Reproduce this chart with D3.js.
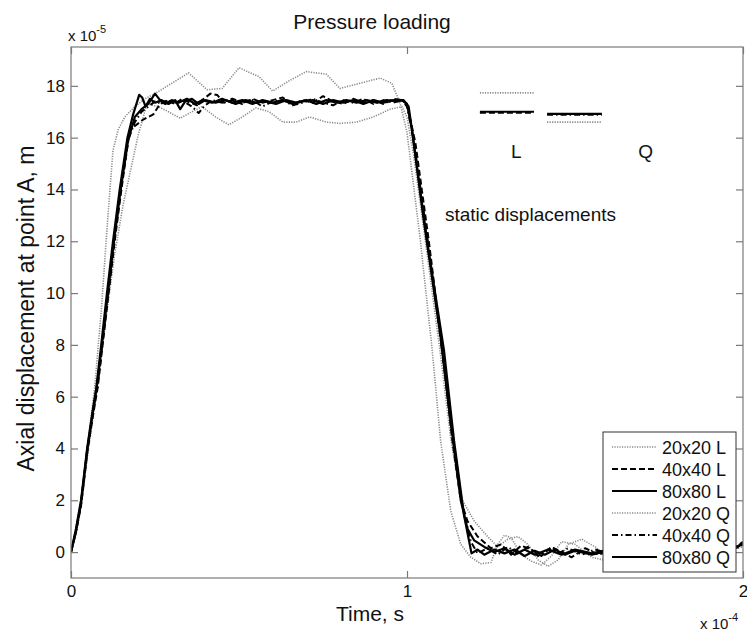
<!DOCTYPE html>
<html lang="en">
<head>
  <meta charset="UTF-8">
  <title>Pressure loading</title>
  <style>
    body { margin: 0; background: #fff; }
    text { font-family: "Liberation Sans", Arial, sans-serif; fill: #111; }
  </style>
</head>
<body>
  <div id="chart"></div>
  <script src="https://d3js.org/d3.v7.min.js"></script>
  <script>
    // time in 1e-4 s, displacement in 1e-5 m
    const xTicks = [0, 1, 2]
    const yTicks = [0, 2, 4, 6, 8, 10, 12, 14, 16, 18]
    const seriesNames = ['20x20 L', '40x40 L', '80x80 L', '20x20 Q', '40x40 Q', '80x80 Q']

    const s20L = [[0,0],[0.015,1.0],[0.03,2.1],[0.05,4.2],[0.07,6.3],[0.09,9.3],[0.11,13.0],[0.125,15.5],[0.14,16.3],[0.16,16.8],[0.19,17.2],[0.22,17.5],[0.25,17.7],[0.3,18.1],[0.35,18.5],[0.405,17.85],[0.45,17.9],[0.5,18.7],[0.56,18.35],[0.6,17.8],[0.65,18.2],[0.7,18.55],[0.76,18.45],[0.8,17.9],[0.86,18.1],[0.92,18.3],[0.955,18.1],[0.98,17.3],[1.0,16.2],[1.04,12.0],[1.075,7.8],[1.1,4.3],[1.13,1.6],[1.16,0.3],[1.19,-0.2],[1.22,-0.45],[1.25,-0.4],[1.27,0.3],[1.29,0.65],[1.31,0.55],[1.34,-0.1],[1.37,-0.35],[1.4,-0.5],[1.43,-0.15],[1.46,0.4],[1.5,0.3],[1.55,-0.2],[1.6,-0.35],[1.65,0.1],[1.7,0.35],[1.75,0.0],[1.8,-0.3],[1.85,0.0],[1.9,0.3],[1.95,0.05],[2.0,0.2]]
    const s40L = [[0,0],[0.015,0.8],[0.03,1.8],[0.05,4.0],[0.067,5.4],[0.08,6.4],[0.095,8.1],[0.112,10.0],[0.13,12.0],[0.15,14.0],[0.175,16.3],[0.195,16.5],[0.215,16.7],[0.245,16.9],[0.265,17.3],[0.285,17.45],[0.31,17.3],[0.33,17.5],[0.355,17.35],[0.375,17.25],[0.395,17.5],[0.415,17.7],[0.435,17.65],[0.455,17.35],[0.48,17.45],[0.51,17.3],[0.54,17.5],[0.57,17.35],[0.6,17.45],[0.63,17.55],[0.66,17.3],[0.69,17.45],[0.72,17.35],[0.75,17.6],[0.78,17.4],[0.81,17.3],[0.84,17.5],[0.87,17.35],[0.9,17.45],[0.93,17.3],[0.96,17.5],[0.985,17.45],[1.0,17.3],[1.025,15.8],[1.065,12.0],[1.105,7.8],[1.135,4.3],[1.16,2.0],[1.18,1.2],[1.21,0.6],[1.25,0.15],[1.28,0.3],[1.31,-0.1],[1.34,0.25],[1.37,0.1],[1.4,-0.15],[1.43,0.2],[1.46,0.0],[1.49,-0.2],[1.53,0.15],[1.57,-0.1],[1.62,0.1],[1.7,-0.1],[1.8,0.1],[1.9,-0.1],[1.97,0.1],[2.0,0.4]]
    const s80L = [[0,0],[0.015,0.9],[0.03,2.0],[0.048,4.0],[0.065,5.5],[0.075,6.3],[0.09,8.0],[0.107,10.0],[0.125,12.0],[0.145,14.0],[0.168,16.0],[0.185,16.9],[0.203,17.65],[0.212,17.55],[0.222,17.2],[0.235,17.5],[0.25,17.35],[0.27,17.45],[0.29,17.3],[0.31,17.45],[0.325,17.1],[0.34,17.4],[0.36,17.5],[0.38,17.3],[0.4,17.45],[0.43,17.35],[0.46,17.45],[0.49,17.3],[0.52,17.45],[0.55,17.35],[0.58,17.4],[0.61,17.3],[0.64,17.45],[0.67,17.35],[0.7,17.45],[0.73,17.3],[0.76,17.45],[0.79,17.35],[0.82,17.45],[0.85,17.35],[0.88,17.45],[0.91,17.35],[0.94,17.45],[0.97,17.4],[0.99,17.45],[1.005,17.2],[1.02,15.8],[1.06,12.0],[1.11,7.8],[1.14,4.3],[1.17,1.4],[1.192,-0.05],[1.21,0.1],[1.23,-0.1],[1.26,0.1],[1.29,-0.05],[1.32,0.1],[1.35,-0.15],[1.38,0.05],[1.41,-0.1],[1.44,0.1],[1.47,-0.1],[1.5,0.05],[1.55,-0.1],[1.6,0.05],[1.7,-0.05],[1.8,0.05],[1.9,-0.05],[1.97,0.1],[2.0,0.35]]
    const s20Q = [[0,0],[0.015,0.7],[0.03,1.8],[0.05,3.8],[0.07,5.6],[0.09,7.6],[0.11,9.6],[0.13,11.5],[0.155,13.4],[0.18,14.9],[0.2,16.1],[0.226,17.3],[0.26,17.2],[0.29,17.0],[0.325,16.75],[0.36,17.0],[0.39,17.2],[0.43,16.8],[0.47,16.5],[0.51,16.8],[0.55,17.15],[0.59,17.0],[0.63,16.6],[0.67,16.6],[0.71,16.8],[0.76,16.6],[0.8,16.55],[0.85,16.6],[0.9,16.8],[0.95,17.1],[0.985,17.2],[1.0,16.8],[1.02,15.3],[1.06,11.5],[1.1,7.6],[1.13,4.4],[1.16,2.1],[1.2,1.2],[1.24,0.6],[1.27,0.2],[1.3,0.5],[1.33,0.6],[1.36,0.3],[1.39,-0.3],[1.42,-0.55],[1.45,-0.3],[1.48,0.3],[1.52,0.5],[1.56,0.2],[1.6,-0.25],[1.65,-0.4],[1.7,0.0],[1.75,0.35],[1.8,0.2],[1.85,-0.2],[1.9,-0.3],[1.95,0.1],[2.0,0.3]]
    const s40Q = [[0,0],[0.015,0.85],[0.03,1.9],[0.049,4.0],[0.066,5.5],[0.079,6.4],[0.093,8.0],[0.11,10.0],[0.128,12.0],[0.148,14.0],[0.17,15.9],[0.19,16.6],[0.21,17.0],[0.23,17.2],[0.25,17.4],[0.27,17.3],[0.29,17.45],[0.31,17.35],[0.33,17.45],[0.36,17.2],[0.38,16.95],[0.395,17.2],[0.42,17.45],[0.45,17.35],[0.48,17.5],[0.51,17.35],[0.54,17.45],[0.57,17.2],[0.6,17.4],[0.63,17.45],[0.66,17.25],[0.69,17.35],[0.72,17.5],[0.75,17.35],[0.78,17.25],[0.81,17.45],[0.84,17.35],[0.87,17.5],[0.9,17.3],[0.93,17.45],[0.96,17.35],[0.985,17.45],[1.0,17.2],[1.02,15.9],[1.06,12.2],[1.1,8.2],[1.135,4.6],[1.165,1.8],[1.19,0.4],[1.21,-0.05],[1.24,0.15],[1.27,-0.1],[1.3,0.2],[1.33,-0.05],[1.36,0.2],[1.39,-0.15],[1.42,0.1],[1.45,-0.05],[1.48,0.15],[1.52,-0.1],[1.56,0.1],[1.6,-0.05],[1.7,0.1],[1.8,-0.05],[1.9,0.1],[1.97,0.05],[2.0,0.3]]
    const s80Q = [[0,0],[0.015,0.8],[0.03,1.9],[0.048,3.9],[0.065,5.4],[0.078,6.5],[0.093,8.1],[0.11,10.0],[0.128,12.0],[0.148,14.0],[0.17,15.9],[0.19,16.8],[0.21,17.1],[0.23,17.3],[0.25,17.7],[0.265,17.45],[0.28,17.3],[0.3,17.45],[0.32,17.35],[0.345,17.5],[0.37,17.3],[0.39,17.45],[0.42,17.35],[0.45,17.5],[0.48,17.35],[0.51,17.45],[0.54,17.3],[0.57,17.45],[0.6,17.35],[0.63,17.45],[0.66,17.3],[0.69,17.4],[0.72,17.45],[0.75,17.3],[0.78,17.45],[0.81,17.35],[0.84,17.45],[0.87,17.3],[0.9,17.45],[0.93,17.35],[0.96,17.45],[0.985,17.45],[1.0,17.3],[1.015,16.3],[1.05,12.8],[1.1,8.3],[1.13,5.0],[1.16,2.0],[1.18,0.9],[1.2,0.45],[1.23,0.2],[1.26,0.0],[1.29,0.15],[1.32,-0.1],[1.35,0.1],[1.38,-0.1],[1.42,0.1],[1.46,-0.1],[1.5,0.1],[1.55,-0.05],[1.6,0.1],[1.7,0.0],[1.8,0.1],[1.9,0.0],[1.97,0.15],[2.0,0.3]]

    // static displacement marks: [x0, x1] span and level per mesh (20, 40, 80)
    const staticSpanL = [1.217, 1.378]
    const staticSpanQ = [1.417, 1.58]
    const staticL = [17.73, 16.96, 17.0]
    const staticQ = [16.6, 16.88, 16.92]

    const width = 747
    const height = 634
    const margin = { top: 47, right: 4, bottom: 56, left: 71 }
    const innerW = width - margin.left - margin.right
    const innerH = height - margin.top - margin.bottom

    const styles = {
      '20': { stroke: '#8a8a8a', width: 1.6, dash: '1.2,1.3' },
      '40L': { stroke: '#000', width: 2, dash: '6,3' },
      '40Q': { stroke: '#000', width: 2, dash: '6,3,1.5,3' },
      '80': { stroke: '#000', width: 2.2, dash: null }
    }
    const seriesData = [
      { name: seriesNames[0], data: s20L, style: styles['20'] },
      { name: seriesNames[1], data: s40L, style: styles['40L'] },
      { name: seriesNames[2], data: s80L, style: styles['80'] },
      { name: seriesNames[3], data: s20Q, style: styles['20'] },
      { name: seriesNames[4], data: s40Q, style: styles['40Q'] },
      { name: seriesNames[5], data: s80Q, style: styles['80'] }
    ]

    const svg = d3.select('#chart').append('svg')
      .attr('width', width)
      .attr('height', height)

    const x = d3.scaleLinear().domain([0, 2]).range([0, innerW])
    const y = d3.scaleLinear().domain([-1, 19.5]).range([innerH, 0])

    const g = svg.append('g')
      .attr('transform', `translate(${margin.left}, ${margin.top})`)

    g.append('clipPath').attr('id', 'clip')
      .append('rect').attr('width', innerW).attr('height', innerH)

    const applyStyle = (sel, st) => sel
      .attr('fill', 'none')
      .attr('stroke', st.stroke)
      .attr('stroke-width', st.width)
      .attr('stroke-dasharray', st.dash)
      .attr('stroke-linejoin', 'round')

    // curves: gray first, then dashed, then solid on top
    const line = d3.line().x(d => x(d[0])).y(d => y(d[1]))
    const drawOrder = [0, 3, 1, 4, 2, 5]
    const lines = g.append('g').attr('clip-path', 'url(#clip)')
    drawOrder.forEach(i => {
      lines.append('path')
        .datum(seriesData[i].data)
        .attr('d', line)
        .call(applyStyle, seriesData[i].style)
    })

    // static displacement marks
    const statics = g.append('g')
    const staticStyles = [styles['20'], styles['40L'], styles['80']]
    const staticStylesQ = [styles['20'], styles['40Q'], styles['80']]
    staticL.forEach((v, i) => {
      statics.append('line')
        .attr('x1', x(staticSpanL[0])).attr('x2', x(staticSpanL[1]))
        .attr('y1', y(v)).attr('y2', y(v))
        .call(applyStyle, staticStyles[i])
    })
    staticQ.forEach((v, i) => {
      statics.append('line')
        .attr('x1', x(staticSpanQ[0])).attr('x2', x(staticSpanQ[1]))
        .attr('y1', y(v)).attr('y2', y(v))
        .call(applyStyle, staticStylesQ[i])
    })
    statics.append('text')
      .attr('x', x(1.325)).attr('y', y(15.2))
      .attr('text-anchor', 'middle').attr('font-size', 19).text('L')
    statics.append('text')
      .attr('x', x(1.71)).attr('y', y(15.2))
      .attr('text-anchor', 'middle').attr('font-size', 19).text('Q')
    statics.append('text')
      .attr('x', x(1.113)).attr('y', y(12.8))
      .attr('font-size', 19).text('static displacements')

    // axes box with inward ticks (MATLAB style)
    const axisColor = '#7a7a7a'
    const tickLen = 7
    g.append('rect')
      .attr('width', innerW).attr('height', innerH)
      .attr('fill', 'none').attr('stroke', axisColor).attr('stroke-width', 1.2)

    const fmt = d3.format('d')
    const yAxisL = d3.axisLeft(y).tickValues(yTicks).tickFormat(fmt).tickSizeInner(-tickLen).tickSizeOuter(0).tickPadding(6)
    const yAxisR = d3.axisRight(y).tickValues(yTicks).tickSizeInner(-tickLen).tickSizeOuter(0).tickFormat('')
    const xAxisB = d3.axisBottom(x).tickValues(xTicks).tickFormat(fmt).tickSizeInner(-tickLen).tickSizeOuter(0).tickPadding(7)
    const xAxisT = d3.axisTop(x).tickValues(xTicks).tickSizeInner(-tickLen).tickSizeOuter(0).tickFormat('')

    const styleAxis = a => {
      a.select('.domain').remove()
      a.selectAll('.tick line').attr('stroke', axisColor).attr('stroke-width', 1.2)
      a.selectAll('.tick text').attr('font-size', 17).attr('fill', '#111')
        .attr('font-family', '"Liberation Sans", Arial, sans-serif')
    }
    g.append('g').call(yAxisL).call(styleAxis)
    g.append('g').attr('transform', `translate(${innerW},0)`).call(yAxisR).call(styleAxis)
    g.append('g').attr('transform', `translate(0,${innerH})`).call(xAxisB).call(styleAxis)
    g.append('g').call(xAxisT).call(styleAxis)

    // legend, anchored to the lower right corner of the axes
    const legW = 133
    const rowH = 22
    const legH = rowH * 6 + 8
    const leg = g.append('g').attr('transform', `translate(${innerW - 7 - legW}, ${innerH - 6 - legH})`)
    leg.append('rect')
      .attr('width', legW).attr('height', legH)
      .attr('fill', '#fff').attr('stroke', '#333').attr('stroke-width', 1)
    seriesData.forEach((s, i) => {
      const row = leg.append('g').attr('transform', `translate(0, ${15 + i * rowH})`)
      row.append('line').attr('x1', 9).attr('x2', 54).attr('y1', 0).attr('y2', 0)
        .call(applyStyle, s.style)
      row.append('text').attr('x', 59).attr('y', 6.5).attr('font-size', 18).text(s.name)
    })

    // exponent labels
    const expo = (sel, px, py, base, exp) => {
      const t = sel.append('text').attr('x', px).attr('y', py).attr('font-size', 15)
      t.append('tspan').text(base)
      t.append('tspan').attr('dy', -8).attr('font-size', 11).text(exp)
    }
    expo(svg, 68, 41, 'x 10', '-5')
    expo(svg, 700, 629, 'x 10', '-4')

    // titles
    svg.append('text')
      .attr('x', 372).attr('y', 29)
      .attr('text-anchor', 'middle').attr('font-size', 21).text('Pressure loading')
    svg.append('text')
      .attr('x', 370).attr('y', 621)
      .attr('text-anchor', 'middle').attr('font-size', 21).text('Time, s')
    svg.append('text')
      .attr('transform', `translate(34, ${margin.top + innerH / 2 - 4}) rotate(-90)`)
      .attr('text-anchor', 'middle').attr('font-size', 23).text('Axial displacement at point A,  m')
  </script>
</body>
</html>
